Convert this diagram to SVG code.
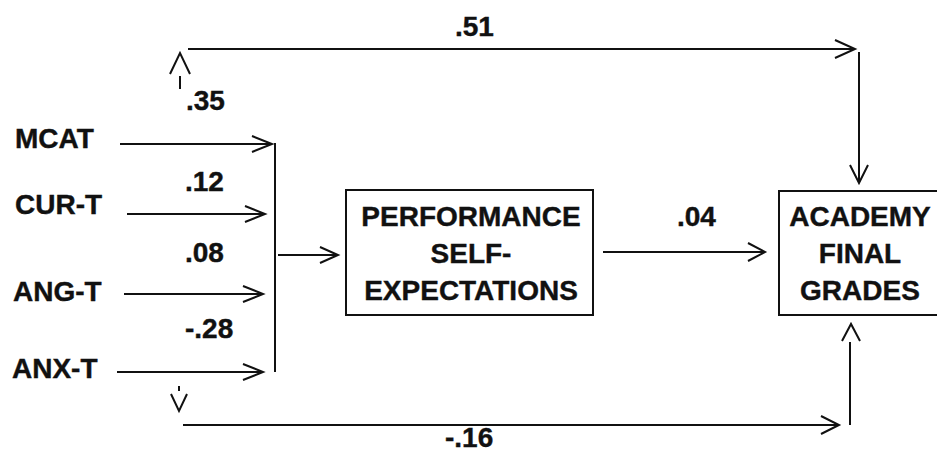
<svg xmlns="http://www.w3.org/2000/svg" width="937" height="454" viewBox="0 0 937 454">
<style>
  .t { font-family: "Liberation Sans", Arial, sans-serif; font-weight: bold; fill: #111; stroke: #111; stroke-width: 0.4; }
  .lab { font-size: 28px; }
  .box { font-size: 28px; text-anchor: middle; }
  .ln { fill: none; stroke: #111; stroke-width: 2; stroke-linecap: butt; stroke-linejoin: miter; }
  .bx { fill: #fff; stroke: #111; stroke-width: 2; }
</style>
<rect width="937" height="454" fill="#fff"/>

<g id="connectors">
  <!-- top path: inputs -> academy -->
  <path class="ln" d="M170,74 L180,53 L190,74 M180,76 V89"/>
  <path class="ln" d="M188,49 H855 M835,40 L855,49 L835,58"/>
  <path class="ln" d="M859,52 V183 M850,165 L859,183 L868,165"/>
  <!-- inputs to bracket -->
  <path class="ln" d="M120,144 H272 M252,136 L272,144 L252,152"/>
  <path class="ln" d="M127,214 H265 M245,206 L265,214 L245,222"/>
  <path class="ln" d="M124,294 H263 M243,286 L263,294 L243,302"/>
  <path class="ln" d="M117,372 H263 M243,364 L263,372 L243,380"/>
  <path class="ln" d="M275,143 V372"/>
  <!-- bracket to performance -->
  <path class="ln" d="M278,255 H338 M320,247 L338,255 L320,263"/>
  <!-- performance to academy -->
  <path class="ln" d="M603,252 H765 M748,243 L765,252 L748,261"/>
  <!-- bottom path -->
  <path class="ln" d="M179,386 V391 M171,394 L179,411 L187,394"/>
  <path class="ln" d="M183,425 H839 M821,416 L839,425 L821,434"/>
  <path class="ln" d="M850,425 V342 M842,341 L851,324 L860,341"/>
  <!-- path coefficients -->
  <text class="t lab" x="455" y="36">.51</text>
  <text class="t lab" x="186" y="110">.35</text>
  <text class="t lab" x="185" y="191">.12</text>
  <text class="t lab" x="185" y="262">.08</text>
  <text class="t lab" x="185" y="338">-.28</text>
  <text class="t lab" x="677" y="226">.04</text>
  <text class="t lab" x="445" y="447">-.16</text>
</g>

<g id="mcat"><text class="t lab" x="15" y="148">MCAT</text></g>
<g id="cur-t"><text class="t lab" x="15" y="214">CUR-T</text></g>
<g id="ang-t"><text class="t lab" x="13" y="301">ANG-T</text></g>
<g id="anx-t"><text class="t lab" x="12" y="378">ANX-T</text></g>

<g id="performance">
  <rect class="bx" x="346" y="190" width="247" height="125"/>
  <text class="t box" x="471" y="226">PERFORMANCE</text>
  <text class="t box" x="471" y="263">SELF-</text>
  <text class="t box" x="471" y="300">EXPECTATIONS</text>
</g>

<g id="academy">
  <rect class="bx" x="779" y="191" width="170" height="124"/>
  <text class="t box" x="860" y="226">ACADEMY</text>
  <text class="t box" x="860" y="263">FINAL</text>
  <text class="t box" x="860" y="300">GRADES</text>
</g>
</svg>
